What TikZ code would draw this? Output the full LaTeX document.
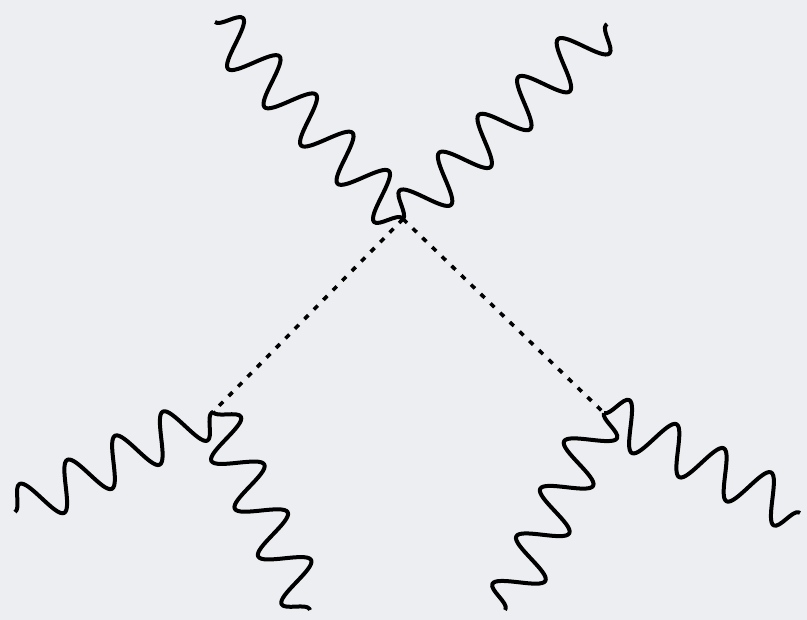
\documentclass[tikz,border=0pt]{standalone}
\usetikzlibrary{decorations.pathmorphing}
\definecolor{bgcol}{RGB}{236,238,241}
\tikzset{
  photon/.style={draw=black, line width=4pt, line join=round,
    decorate, decoration={snake, amplitude=23pt, segment length=#1}},
  scalar/.style={draw=black, line width=3.6pt, dash pattern=on 5.5pt off 8pt}
}
\begin{document}
\begin{tikzpicture}[x=1pt,y=-1pt]
\fill[bgcol] (0,0) rectangle (807,620);
\useasboundingbox (0,0) rectangle (807,620);
% vertices
\coordinate (v1) at (403,219);
\coordinate (v2) at (213,412);
\coordinate (v3) at (604,413);
% external ends
\coordinate (a) at (215,22);
\coordinate (b) at (607,24);
\coordinate (c) at (15,512);
\coordinate (d) at (310,610);
\coordinate (e) at (505,610);
\coordinate (f) at (800,513);
% wavy lines
\draw[photon=52.87pt] (a) -- (v1);
\draw[photon=54.79pt] (v1) -- (b);
\draw[photon=53.50pt] (c) -- (v2);
\draw[photon=53.19pt] (v2) -- (d);
\draw[photon=53.19pt] (v3) -- (e);
\draw[photon=53.07pt] (v3) -- (f);
% dotted lines
\draw[scalar] (v1) -- (v2);
\draw[scalar] (v1) -- (v3);
\end{tikzpicture}
\end{document}
